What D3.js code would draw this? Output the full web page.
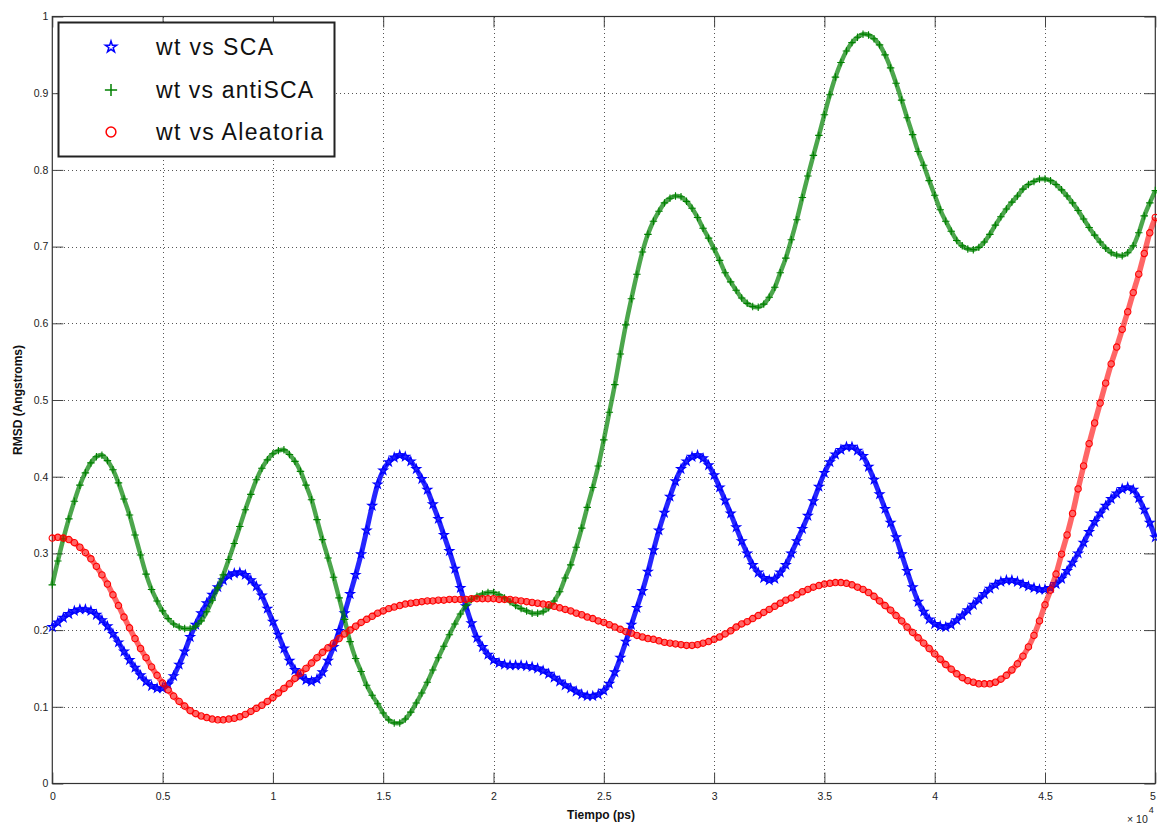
<!DOCTYPE html>
<html>
<head>
<meta charset="utf-8">
<script src="https://cdn.jsdelivr.net/npm/d3@7"></script>
<style>
  html, body { margin: 0; padding: 0; background: #fff; }
  svg { display: block; font-family: Arial, "Liberation Sans", Helvetica, sans-serif; }
</style>
</head>
<body>
<svg id="chart" width="1157" height="825"></svg>
<script>
// Simulation time, sampled every 250 ps
const tiempo = d3.range(0, 50001, 250);

// RMSD (Angstroms) of each comparison, one value per time sample
const rmsdSCA = [
  0.204,0.210,0.216,0.221,0.225,0.227,0.227,0.225,
  0.220,0.213,0.205,0.195,0.184,0.172,0.161,0.151,
  0.141,0.133,0.127,0.124,0.124,0.129,0.140,0.155,
  0.172,0.191,0.207,0.222,0.235,0.246,0.256,0.265,
  0.271,0.274,0.275,0.272,0.265,0.257,0.245,0.228,
  0.211,0.194,0.176,0.160,0.148,0.140,0.135,0.133,
  0.136,0.145,0.160,0.178,0.199,0.222,0.247,0.272,
  0.299,0.330,0.362,0.390,0.408,0.419,0.425,0.428,
  0.426,0.420,0.410,0.397,0.383,0.364,0.345,0.324,
  0.303,0.280,0.255,0.231,0.209,0.190,0.178,0.168,
  0.161,0.157,0.155,0.154,0.154,0.154,0.153,0.152,
  0.150,0.147,0.143,0.138,0.133,0.128,0.124,0.120,
  0.116,0.114,0.114,0.116,0.121,0.130,0.145,0.164,
  0.185,0.207,0.229,0.251,0.276,0.304,0.330,0.353,
  0.374,0.394,0.410,0.420,0.426,0.428,0.424,0.415,
  0.402,0.386,0.369,0.352,0.334,0.316,0.300,0.285,
  0.275,0.268,0.265,0.267,0.275,0.285,0.300,0.316,
  0.332,0.349,0.368,0.387,0.405,0.419,0.429,0.435,
  0.439,0.439,0.434,0.427,0.413,0.396,0.377,0.358,
  0.340,0.321,0.299,0.277,0.256,0.237,0.224,0.214,
  0.208,0.205,0.204,0.207,0.213,0.219,0.226,0.233,
  0.240,0.247,0.254,0.259,0.263,0.265,0.265,0.263,
  0.260,0.257,0.255,0.253,0.253,0.255,0.260,0.267,
  0.277,0.288,0.300,0.314,0.328,0.341,0.352,0.362,
  0.371,0.378,0.384,0.386,0.383,0.372,0.357,0.340,
  0.321
];

const rmsdAntiSCA = [
  0.259,0.290,0.319,0.345,0.368,0.389,0.405,0.418,
  0.426,0.428,0.421,0.409,0.392,0.371,0.350,0.324,
  0.298,0.273,0.253,0.238,0.225,0.215,0.208,0.204,
  0.202,0.202,0.205,0.212,0.224,0.239,0.255,0.272,
  0.292,0.313,0.335,0.357,0.377,0.396,0.411,0.422,
  0.430,0.434,0.435,0.429,0.420,0.407,0.389,0.370,
  0.344,0.318,0.294,0.269,0.242,0.214,0.185,0.163,
  0.146,0.128,0.115,0.104,0.092,0.083,0.079,0.079,
  0.084,0.093,0.105,0.118,0.132,0.148,0.164,0.179,
  0.194,0.208,0.221,0.232,0.240,0.244,0.247,0.249,
  0.249,0.246,0.242,0.237,0.232,0.228,0.225,0.222,
  0.222,0.224,0.229,0.238,0.250,0.268,0.285,0.308,
  0.333,0.360,0.386,0.414,0.448,0.484,0.520,0.560,
  0.598,0.632,0.664,0.693,0.716,0.733,0.746,0.757,
  0.763,0.766,0.765,0.759,0.750,0.738,0.724,0.711,
  0.697,0.682,0.666,0.654,0.643,0.633,0.626,0.622,
  0.621,0.625,0.634,0.647,0.666,0.685,0.709,0.735,
  0.764,0.792,0.819,0.845,0.872,0.898,0.921,0.940,
  0.955,0.966,0.973,0.977,0.976,0.971,0.963,0.950,
  0.933,0.913,0.891,0.868,0.846,0.824,0.806,0.786,
  0.767,0.748,0.733,0.720,0.708,0.701,0.697,0.696,
  0.699,0.706,0.716,0.728,0.739,0.749,0.758,0.766,
  0.775,0.781,0.785,0.788,0.788,0.786,0.781,0.774,
  0.766,0.757,0.747,0.736,0.725,0.715,0.706,0.698,
  0.692,0.689,0.688,0.692,0.701,0.718,0.740,0.757,
  0.773
];

const rmsdAleatoria = [
  0.320,0.321,0.320,0.318,0.314,0.308,0.301,0.293,
  0.283,0.272,0.260,0.246,0.232,0.217,0.203,0.189,
  0.176,0.164,0.152,0.141,0.131,0.122,0.114,0.107,
  0.101,0.095,0.091,0.088,0.086,0.084,0.083,0.083,
  0.084,0.085,0.087,0.090,0.094,0.098,0.102,0.107,
  0.112,0.118,0.124,0.130,0.137,0.144,0.150,0.157,
  0.164,0.171,0.177,0.183,0.189,0.195,0.200,0.205,
  0.210,0.214,0.218,0.222,0.225,0.228,0.230,0.232,
  0.234,0.235,0.236,0.237,0.238,0.238,0.239,0.239,
  0.240,0.240,0.240,0.240,0.241,0.241,0.241,0.241,
  0.241,0.240,0.240,0.240,0.239,0.238,0.237,0.236,
  0.235,0.234,0.233,0.231,0.229,0.227,0.225,0.222,
  0.220,0.217,0.215,0.212,0.210,0.207,0.204,0.201,
  0.198,0.196,0.193,0.191,0.189,0.188,0.186,0.184,
  0.183,0.182,0.181,0.180,0.180,0.181,0.183,0.185,
  0.188,0.191,0.195,0.199,0.204,0.208,0.211,0.215,
  0.219,0.223,0.227,0.231,0.235,0.239,0.242,0.246,
  0.250,0.253,0.256,0.258,0.260,0.261,0.262,0.262,
  0.261,0.259,0.256,0.253,0.249,0.244,0.238,0.232,
  0.226,0.219,0.212,0.204,0.197,0.190,0.183,0.176,
  0.169,0.162,0.155,0.149,0.143,0.138,0.134,0.132,
  0.130,0.130,0.130,0.132,0.136,0.141,0.148,0.156,
  0.166,0.178,0.193,0.212,0.233,0.252,0.273,0.299,
  0.324,0.352,0.384,0.414,0.443,0.470,0.496,0.522,
  0.547,0.569,0.592,0.615,0.640,0.664,0.691,0.718,
  0.738
];

const xTicks = d3.range(0, 50001, 5000);
const yTicks = d3.range(0, 11).map(d => d / 10);
const seriesNames = ["wt vs SCA", "wt vs antiSCA", "wt vs Aleatoria"];
const seriesColors = ["#0000ff", "#008000", "#ff0000"];

const svg = d3.select("#chart");
const W = 1157, H = 825;
const plotLeft = 52.3, plotRight = 1155.3, plotTop = 16.5, plotBottom = 783.5;

svg.append("rect").attr("width", W).attr("height", H).attr("fill", "#fff");

const x = d3.scaleLinear().domain([0, 50000]).range([plotLeft, plotRight]);
const y = d3.scaleLinear().domain([0, 1]).range([plotBottom, plotTop]);

// dotted grid
const grid = svg.append("g").attr("stroke", "#555").attr("stroke-width", 1)
  .attr("stroke-dasharray", "1,3").attr("shape-rendering", "crispEdges");
grid.selectAll(".gx").data(xTicks.slice(1, -1)).join("line")
  .attr("x1", d => Math.round(x(d)) + 0.5).attr("x2", d => Math.round(x(d)) + 0.5)
  .attr("y1", plotTop).attr("y2", plotBottom);
grid.selectAll(".gy").data(yTicks.slice(1, -1)).join("line")
  .attr("y1", d => Math.round(y(d)) + 0.5).attr("y2", d => Math.round(y(d)) + 0.5)
  .attr("x1", plotLeft).attr("x2", plotRight);

// axes with inward ticks on all four sides
const fmtX = d => d3.format("~g")(d / 10000);
const fmtY = d => d3.format("~g")(d);
const tickLen = 11;

function styleAxis(g) {
  g.select(".domain").remove();
  g.selectAll(".tick line").attr("stroke", "#444");
  g.selectAll(".tick text").attr("fill", "#222").attr("font-size", 10.5)
    .attr("font-family", "Arial, 'Liberation Sans', sans-serif");
}

const xAxisG = svg.append("g").attr("transform", `translate(0,${plotBottom})`)
  .call(d3.axisBottom(x).tickValues(xTicks).tickFormat(fmtX).tickSizeInner(-tickLen).tickSizeOuter(0).tickPadding(9))
  .call(styleAxis);
// keep the last label inside the canvas
xAxisG.selectAll(".tick text").filter(d => d === 50000)
  .attr("text-anchor", "end").attr("dx", 0);

svg.append("g").attr("transform", `translate(0,${plotTop})`)
  .call(d3.axisTop(x).tickValues(xTicks).tickFormat("").tickSizeInner(-tickLen).tickSizeOuter(0))
  .call(styleAxis);
svg.append("g").attr("transform", `translate(${plotLeft},0)`)
  .call(d3.axisLeft(y).tickValues(yTicks).tickFormat(fmtY).tickSizeInner(-tickLen).tickSizeOuter(0).tickPadding(4))
  .call(styleAxis);
svg.append("g").attr("transform", `translate(${plotRight},0)`)
  .call(d3.axisRight(y).tickValues(yTicks).tickFormat("").tickSizeInner(-tickLen).tickSizeOuter(0))
  .call(styleAxis);

// plot frame
svg.append("rect").attr("x", plotLeft).attr("y", plotTop)
  .attr("width", plotRight - plotLeft).attr("height", plotBottom - plotTop)
  .attr("fill", "none").attr("stroke", "#333").attr("stroke-width", 1.2);

// marker shapes
const plusSymbol = {
  draw(ctx, size) {
    const r = Math.sqrt(size) / 2;
    ctx.moveTo(-r, 0); ctx.lineTo(r, 0);
    ctx.moveTo(0, -r); ctx.lineTo(0, r);
  }
};
const markerSymbols = [
  d3.symbol(d3.symbolStar, 24),
  d3.symbol(plusSymbol, 56),
  d3.symbol(d3.symbolCircle, 32)
];
const legendSymbols = [
  d3.symbol(d3.symbolStar, 40),
  d3.symbol(plusSymbol, 150),
  d3.symbol(d3.symbolCircle, 75)
];

const seriesData = [rmsdSCA, rmsdAntiSCA, rmsdAleatoria];
const line = d3.line().x(d => x(d[0])).y(d => y(d[1])).curve(d3.curveCatmullRom);
const plot = svg.append("g");
const bandWidth = [5, 4.5, 5.5];
const bandOpacity = [0.85, 0.7, 0.6];

seriesData.forEach((vals, i) => {
  const pts = tiempo.map((t, k) => [t, vals[k]]);
  const g = plot.append("g");
  g.append("path").datum(pts).attr("d", line)
    .attr("fill", "none").attr("stroke", seriesColors[i])
    .attr("stroke-width", bandWidth[i]).attr("stroke-opacity", bandOpacity[i]);
  g.selectAll("path.m").data(pts).join("path").attr("class", "m")
    .attr("transform", d => `translate(${x(d[0])},${y(d[1])})`)
    .attr("d", markerSymbols[i])
    .attr("fill", "none").attr("stroke", seriesColors[i]).attr("stroke-width", 1.1);
});

// legend
const lg = svg.append("g");
lg.append("rect").attr("x", 58.5).attr("y", 22.5).attr("width", 276).attr("height", 134)
  .attr("fill", "#fff").attr("stroke", "#222").attr("stroke-width", 2);
const legendY = [47, 90, 132];
const legendLen = [117, 157, 167];
seriesNames.forEach((name, i) => {
  lg.append("path").attr("transform", `translate(111,${legendY[i]})`)
    .attr("d", legendSymbols[i]).attr("fill", "none")
    .attr("stroke", seriesColors[i]).attr("stroke-width", 1.5);
  lg.append("text").attr("x", 156).attr("y", legendY[i] + 8)
    .attr("font-size", 23).attr("fill", "#111")
    .attr("textLength", legendLen[i]).attr("lengthAdjust", "spacing")
    .text(name);
});

// axis titles
svg.append("text").attr("x", 601).attr("y", 819).attr("text-anchor", "middle")
  .attr("font-size", 12).attr("font-weight", "bold").attr("fill", "#111")
  .text("Tiempo (ps)");
svg.append("text").attr("transform", "translate(22,400) rotate(-90)")
  .attr("text-anchor", "middle").attr("font-size", 12).attr("font-weight", "bold")
  .attr("fill", "#111").text("RMSD (Angstroms)");

// exponent of the time axis
const ex = svg.append("text").attr("x", 1127).attr("y", 823).attr("font-size", 10.5).attr("fill", "#222");
ex.append("tspan").text("× 10");
ex.append("tspan").attr("dx", 1).attr("dy", -10).attr("font-size", 9).text("4");
</script>
</body>
</html>
